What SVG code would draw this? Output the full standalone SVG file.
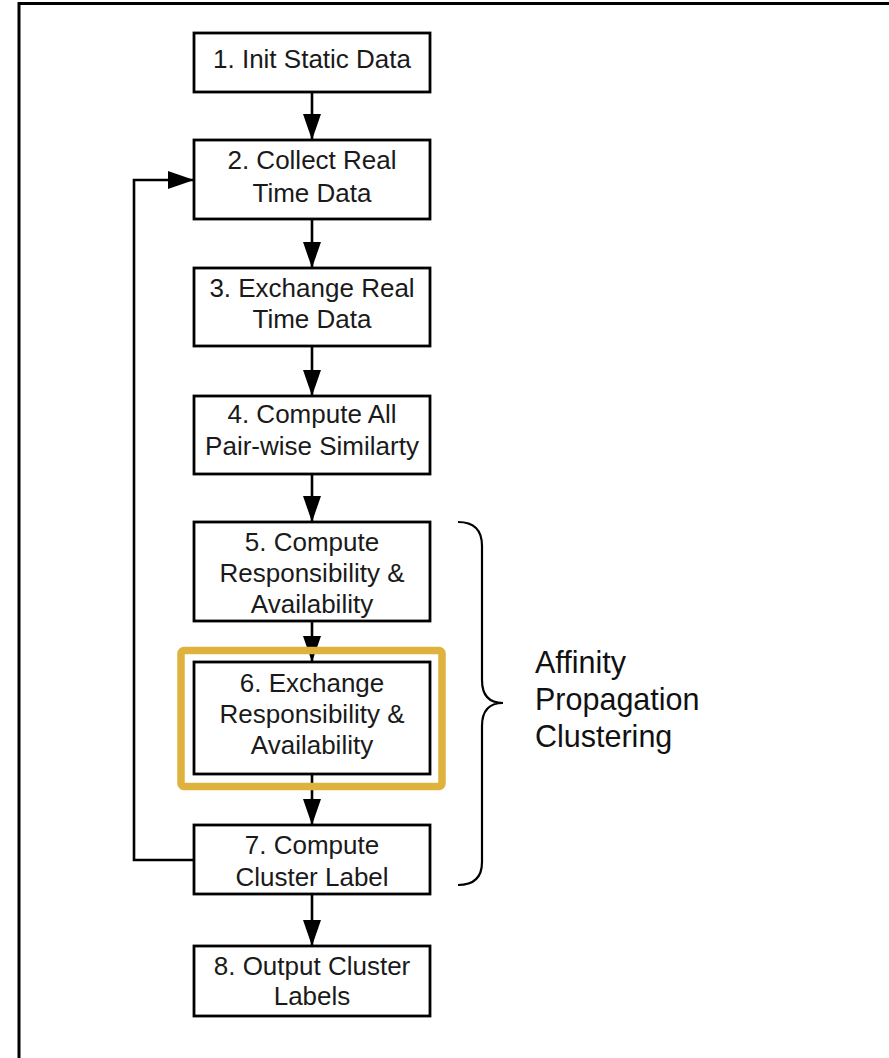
<svg xmlns="http://www.w3.org/2000/svg" width="889" height="1058" viewBox="0 0 889 1058">
<defs>
<style>
.box{fill:#fff;stroke:#000;stroke-width:2.8}
.t{font-family:"Liberation Sans",Arial,sans-serif;font-size:26px;fill:#1a1a1a;text-anchor:middle}
.lbl{font-family:"Liberation Sans",Arial,sans-serif;font-size:30.5px;fill:#111}
.ln{fill:none;stroke:#000;stroke-width:2.6}
</style>
<marker id="ah" viewBox="0 0 26 18" markerWidth="26" markerHeight="18" refX="26" refY="9" orient="0" markerUnits="userSpaceOnUse">
<path d="M0,0 L26,9 L0,18 Z" fill="#000"/>
</marker>
<marker id="av" viewBox="0 0 18 26" markerWidth="18" markerHeight="26" refX="9" refY="26" orient="0" markerUnits="userSpaceOnUse">
<path d="M0,0 L18,0 L9,26 Z" fill="#000"/>
</marker>
</defs>
<rect width="889" height="1058" fill="#fff"/>
<rect x="19" y="3.5" width="900" height="1100" fill="none" stroke="#000" stroke-width="3"/>

<g id="connectors">
<line class="ln" x1="312" y1="92" x2="312" y2="140" marker-end="url(#av)"/>
<line class="ln" x1="312" y1="219" x2="312" y2="268" marker-end="url(#av)"/>
<line class="ln" x1="312" y1="346" x2="312" y2="396" marker-end="url(#av)"/>
<line class="ln" x1="312" y1="474" x2="312" y2="522" marker-end="url(#av)"/>
<line class="ln" x1="312" y1="621" x2="312" y2="662" marker-end="url(#av)"/>
<line class="ln" x1="312" y1="774" x2="312" y2="825" marker-end="url(#av)"/>
<line class="ln" x1="312" y1="894" x2="312" y2="946" marker-end="url(#av)"/>
<polyline class="ln" points="194,860 134,860 134,180 194,180" marker-end="url(#ah)"/>
</g>

<g id="n1"><rect class="box" x="194" y="33" width="236" height="59"/><text class="t" x="312" y="68">1. Init Static Data</text></g>
<g id="n2"><rect class="box" x="194" y="140" width="236" height="79"/><text class="t" x="312" y="169">2. Collect Real</text><text class="t" x="312" y="202">Time Data</text></g>
<g id="n3"><rect class="box" x="194" y="268" width="236" height="78"/><text class="t" x="312" y="297">3. Exchange Real</text><text class="t" x="312" y="328">Time Data</text></g>
<g id="n4"><rect class="box" x="194" y="396" width="236" height="78"/><text class="t" x="312" y="423">4. Compute All</text><text class="t" x="312" y="455">Pair-wise Similarty</text></g>
<g id="n5"><rect class="box" x="194" y="522" width="236" height="99"/><text class="t" x="312" y="551">5. Compute</text><text class="t" x="312" y="582">Responsibility &amp;</text><text class="t" x="312" y="613">Availability</text></g>
<g id="highlight"><rect x="181" y="650.5" width="261" height="136" rx="3" fill="none" stroke="#DFB23E" stroke-width="7.5"/></g>
<g id="n6"><rect class="box" x="194" y="662" width="236" height="112"/><text class="t" x="312" y="692">6. Exchange</text><text class="t" x="312" y="723">Responsibility &amp;</text><text class="t" x="312" y="754">Availability</text></g>
<g id="n7"><rect class="box" x="194" y="825" width="236" height="69"/><text class="t" x="312" y="854">7. Compute</text><text class="t" x="312" y="886">Cluster Label</text></g>
<g id="n8"><rect class="box" x="194" y="946" width="236" height="70"/><text class="t" x="312" y="975">8. Output Cluster</text><text class="t" x="312" y="1005">Labels</text></g>

<g id="brace">
<path d="M458,522 Q482,522 482,546 L482,680 Q482,703 503,703 Q482,703 482,726 L482,862 Q482,885 458,885" fill="none" stroke="#000" stroke-width="2.2"/>
<text class="lbl" x="535" y="673">Affinity</text>
<text class="lbl" x="535" y="710">Propagation</text>
<text class="lbl" x="535" y="747">Clustering</text>
</g>
</svg>
